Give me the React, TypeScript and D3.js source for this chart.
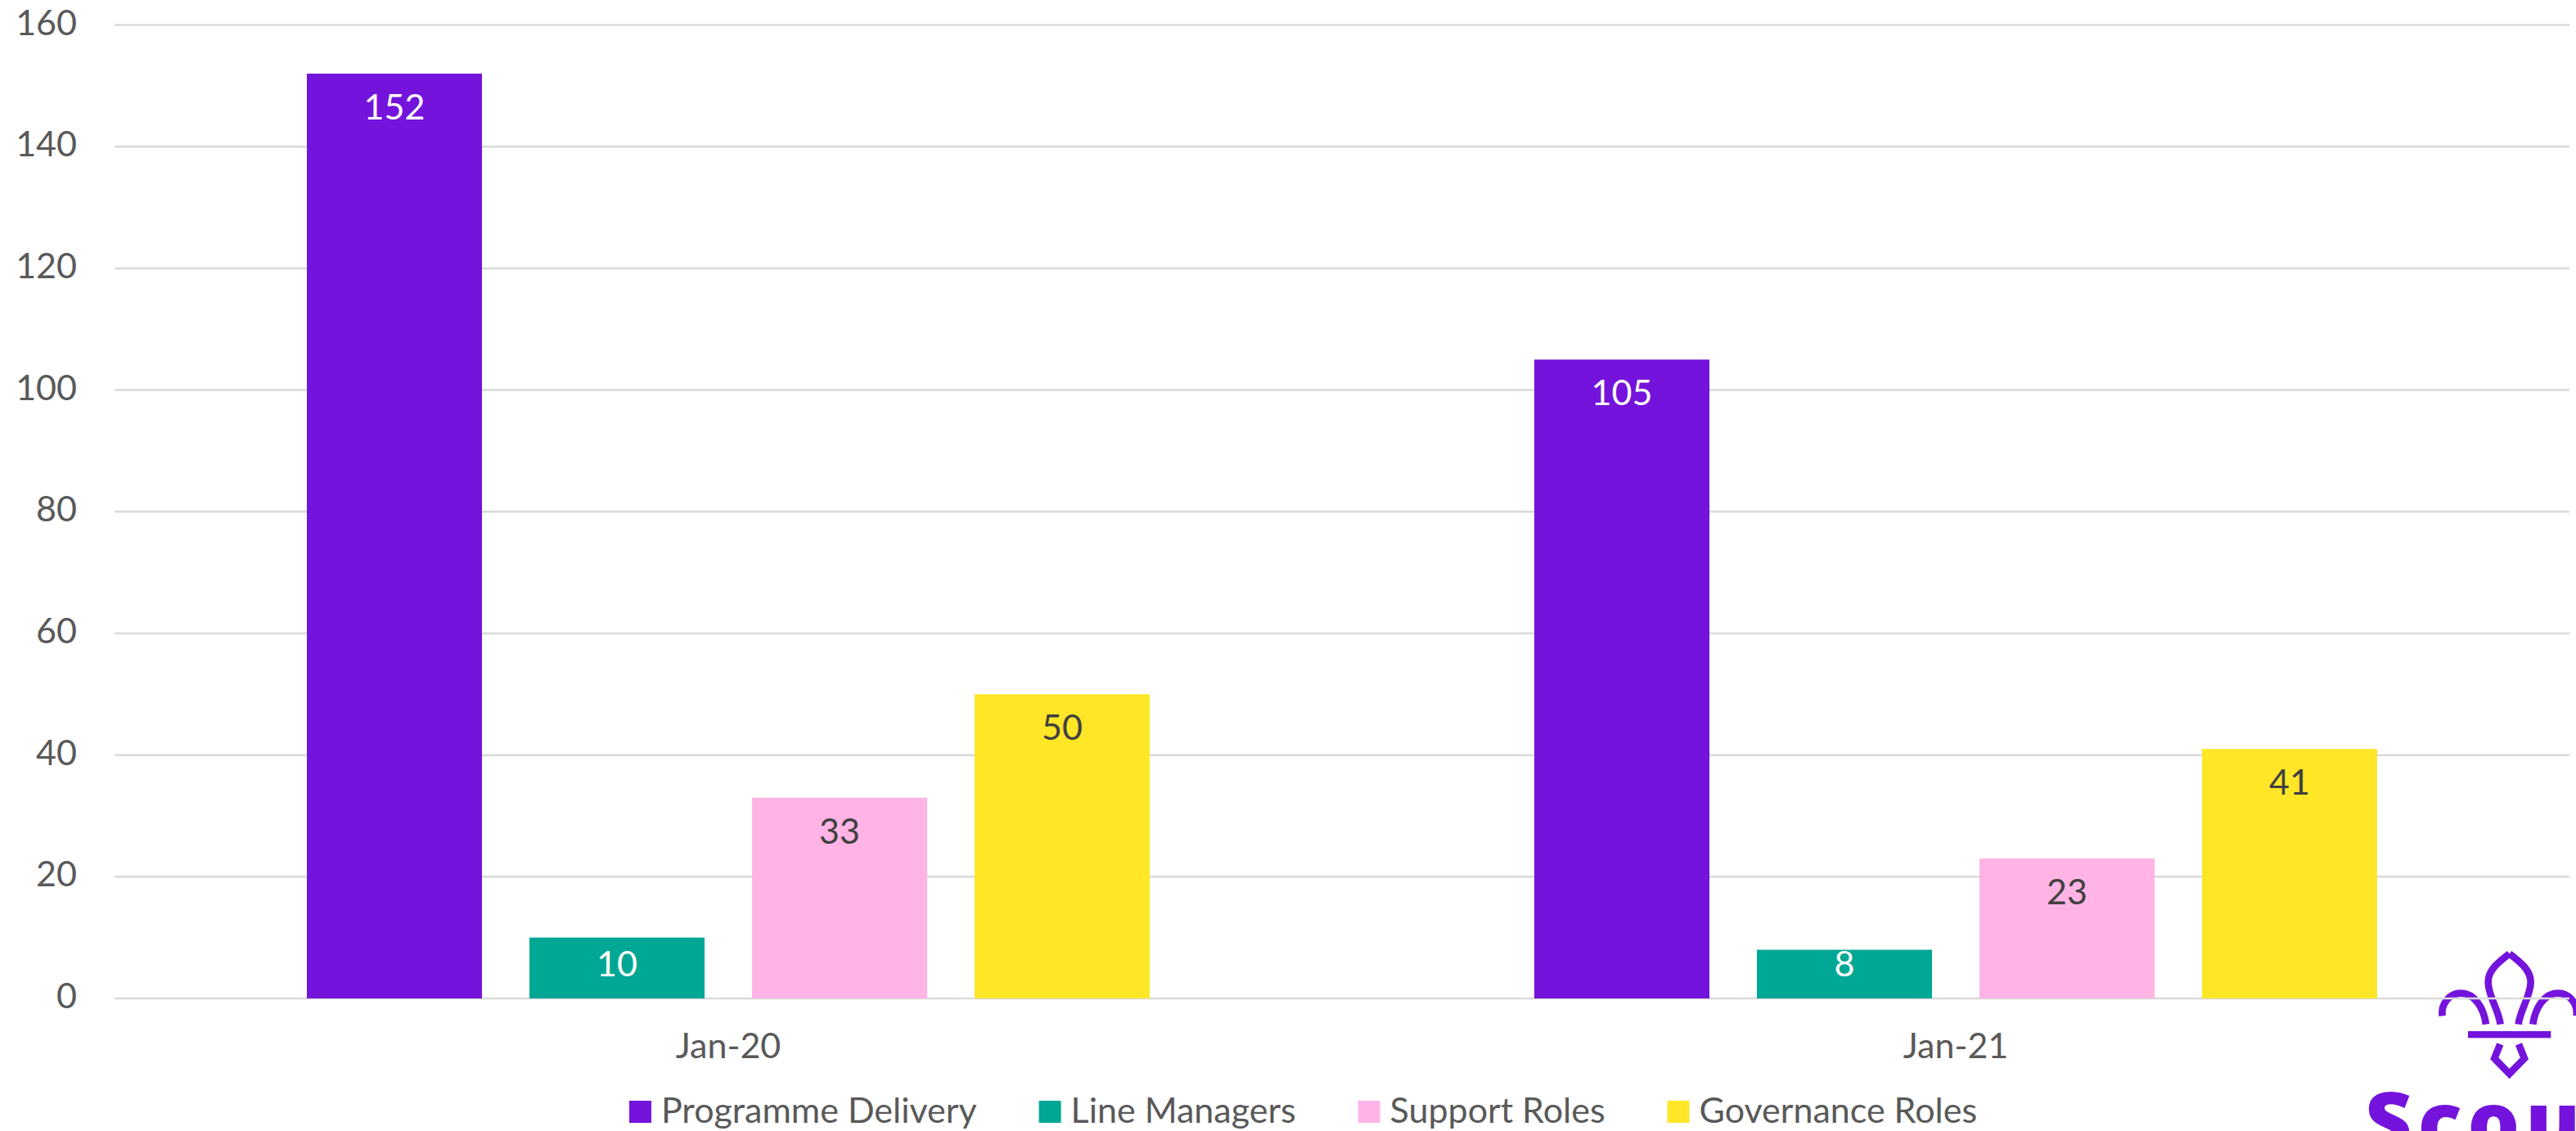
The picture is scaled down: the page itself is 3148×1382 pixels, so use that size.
import React, { useEffect, useRef } from "react";
import * as d3 from "d3";

const categories = ["Jan-20", "Jan-21"];
const seriesNames = ["Programme Delivery", "Line Managers", "Support Roles", "Governance Roles"];
const programmeDelivery = [152, 105];
const lineManagers = [10, 8];
const supportRoles = [33, 23];
const governanceRoles = [50, 41];
const seriesValues = [programmeDelivery, lineManagers, supportRoles, governanceRoles];
const seriesColors = ["#7413DC", "#00A794", "#FFB4E5", "#FFE627"];
const labelColors = ["#FFFFFF", "#FFFFFF", "#404040", "#404040"];
const yTicks = [0, 20, 40, 60, 80, 100, 120, 140, 160];

const W = 3148;
const H = 1382;
const FONT = "Lato, 'Noto Sans', sans-serif";
const FS = 43;

export default function App() {
  const ref = useRef<SVGSVGElement | null>(null);

  useEffect(() => {
    const svg = d3.select(ref.current);
    svg.selectAll("*").remove();

    const left = 140, right = 3140, top = 30.5, bottom = 1220;
    const y = d3.scaleLinear().domain([0, 160]).range([bottom, top]);
    const x0 = d3.scaleBand<string>().domain(categories).range([left, right]).paddingInner(0).paddingOuter(0);
    const groupW = x0.bandwidth() * (1030 / 1500);
    const x1 = d3.scaleBand<string>().domain(seriesNames).range([0, groupW]).paddingInner(58 / 272).paddingOuter(0);

    // logo (behind chart)
    const logo = svg.append("g").attr("transform", "translate(2800,1100) scale(0.3333)");
    const lc = "#7413DC";
    const strokePaths = [
      "M800,196 C770,220 722,252 722,300 C722,352 760,400 767,455",
      "M800,196 C830,220 878,252 878,300 C878,352 840,400 833,455",
      "M554,424 C548,380 580,341 622,341 C672,341 706,395 714,455",
      "M1046,424 C1052,380 1020,341 978,341 C928,341 894,395 886,455",
      "M766,528 L745,580 L800,636 L855,580 L834,528",
    ];
    strokePaths.forEach((p) => {
      logo.append("path").attr("d", p).attr("fill", "none").attr("stroke", lc)
        .attr("stroke-width", 26).attr("stroke-linejoin", "miter");
    });
    logo.append("rect").attr("x", 648).attr("y", 480).attr("width", 304).attr("height", 25).attr("fill", lc);
    svg.append("text").attr("x", 2890).attr("y", 1406).attr("font-family", "'Open Sans', 'Noto Sans', sans-serif")
      .attr("font-weight", 800).attr("font-size", 100).attr("letter-spacing", 7).attr("fill", lc).text("Scouts");

    // gridlines
    svg.append("g").selectAll("line").data(yTicks).join("line")
      .attr("x1", left).attr("x2", right)
      .attr("y1", (d) => y(d)).attr("y2", (d) => y(d))
      .attr("stroke", "#D9D9D9").attr("stroke-width", 2.5);

    // y tick labels
    svg.append("g").selectAll("text").data(yTicks).join("text")
      .attr("x", 94).attr("y", (d) => y(d) + 12)
      .attr("text-anchor", "end").attr("font-family", FONT).attr("font-size", FS)
      .attr("fill", "#595959").text((d) => String(d));

    // bars
    seriesNames.forEach((s, si) => {
      const g = svg.append("g");
      const vals = seriesValues[si];
      categories.forEach((c, ci) => {
        const v = vals[ci];
        const gx = x0(c)! + (x0.bandwidth() - groupW) / 2 + x1(s)!;
        g.append("rect").attr("x", gx).attr("y", y(v)).attr("width", x1.bandwidth())
          .attr("height", y(0) - y(v)).attr("fill", seriesColors[si]);
        const ly = Math.min(y(v) + 56, y(0) - 27);
        g.append("text").attr("x", gx + x1.bandwidth() / 2).attr("y", ly)
          .attr("text-anchor", "middle").attr("font-family", FONT).attr("font-size", FS)
          .attr("fill", labelColors[si]).text(String(v));
      });
    });

    // category labels
    svg.append("g").selectAll("text").data(categories).join("text")
      .attr("x", (d) => x0(d)! + x0.bandwidth() / 2).attr("y", 1293)
      .attr("text-anchor", "middle").attr("font-family", FONT).attr("font-size", FS)
      .attr("fill", "#595959").text((d) => d);

    // legend
    const lg = svg.append("g");
    const items = seriesNames.map((name, i) => {
      const t = lg.append("text").attr("y", 1372).attr("font-family", FONT).attr("font-size", FS)
        .attr("fill", "#595959").text(name);
      const w = (t.node() as SVGTextElement).getComputedTextLength();
      return { t, w, i };
    });
    const sq = 27, gapT = 12, gapItem = 76;
    const total = items.reduce((a, it) => a + sq + gapT + it.w, 0) + gapItem * (items.length - 1);
    let cx = 1592.5 - total / 2;
    items.forEach((it) => {
      lg.append("rect").attr("x", cx).attr("y", 1345).attr("width", sq).attr("height", sq)
        .attr("fill", seriesColors[it.i]);
      it.t.attr("x", cx + sq + gapT);
      cx += sq + gapT + it.w + gapItem;
    });
  }, []);

  return (
    <svg
      ref={ref}
      width={W}
      height={H}
      style={{ position: "absolute", left: 0, top: 0, background: "#FFFFFF", display: "block" }}
    />
  );
}
